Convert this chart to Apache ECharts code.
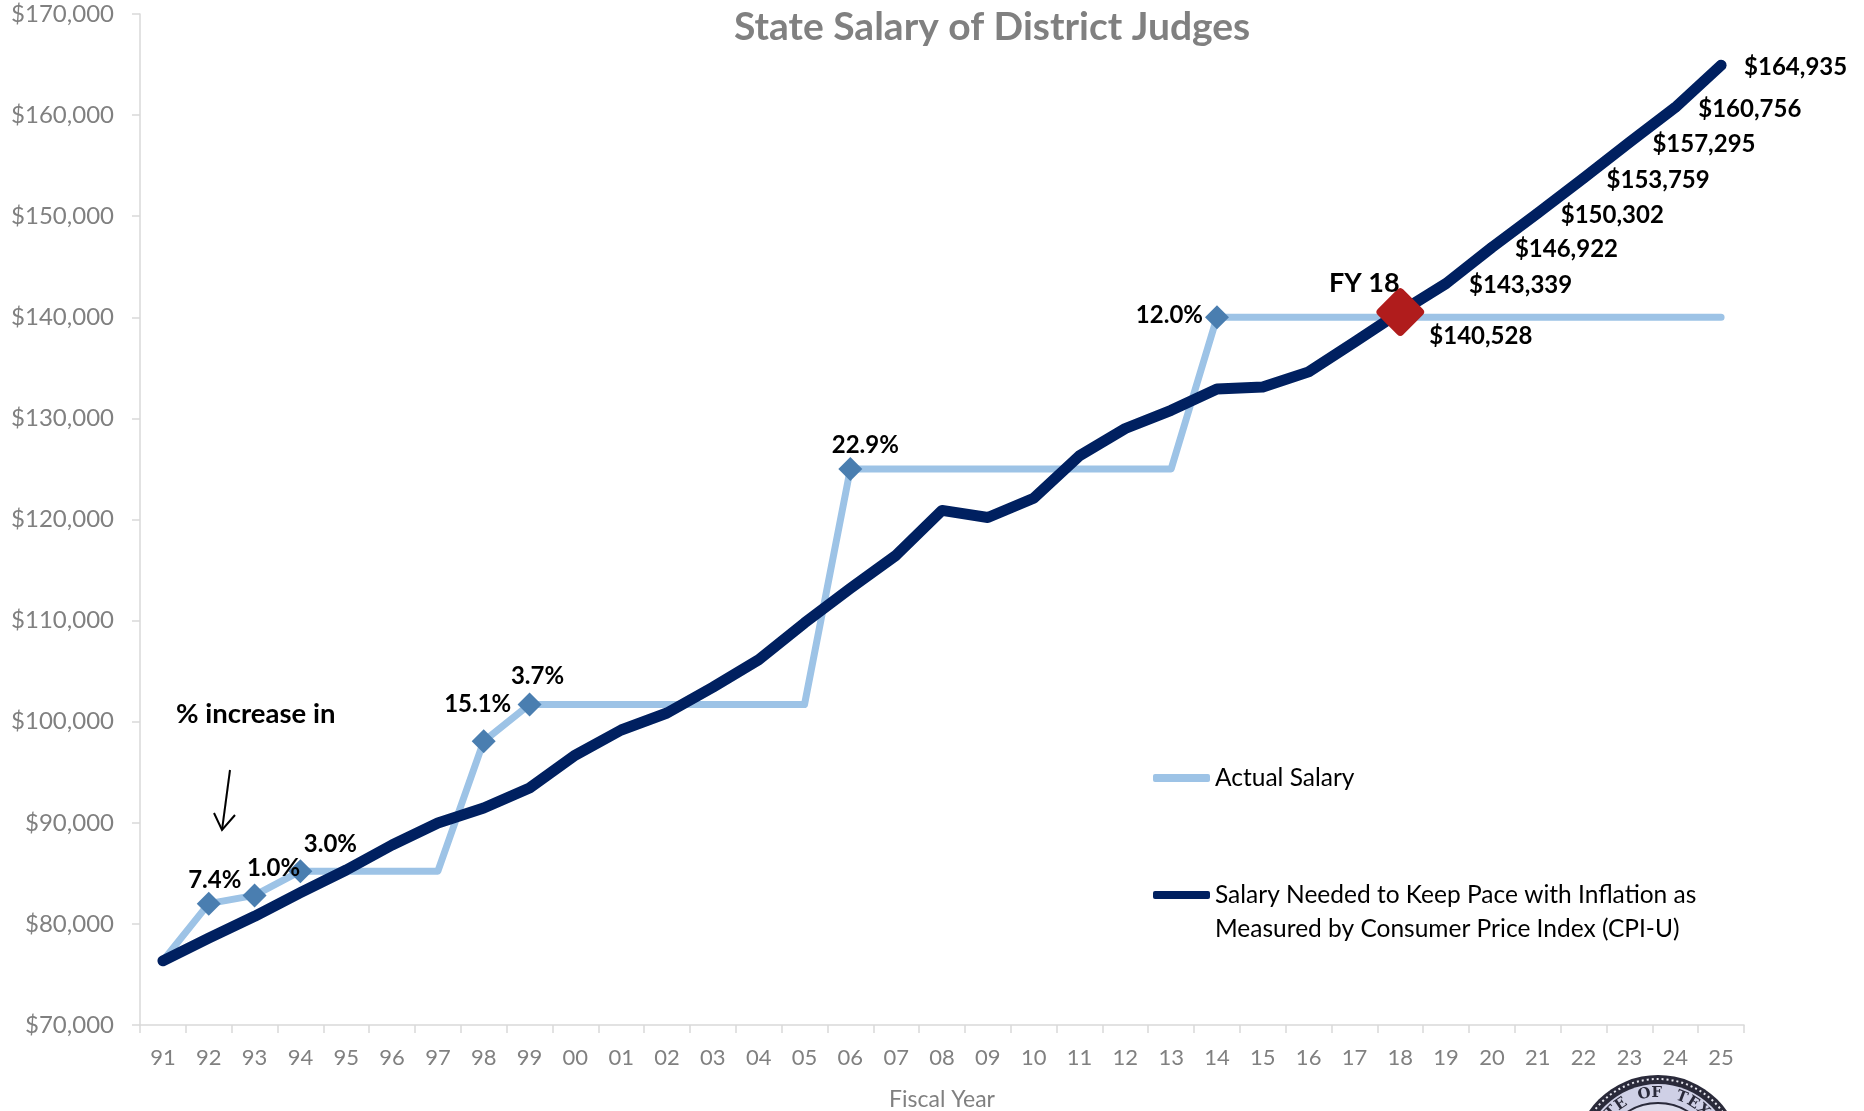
<!DOCTYPE html>
<html>
<head>
<meta charset="utf-8">
<title>State Salary of District Judges</title>
<script src="https://cdn.jsdelivr.net/npm/echarts@6/dist/echarts.min.js"></script>
<style>
  html, body { margin: 0; padding: 0; background: #fff; }
  #chart { width: 1864px; height: 1111px; }
</style>
</head>
<body>
<div id="chart"></div>
<script>
// fiscal years
var years = ['91','92','93','94','95','96','97','98','99','00','01','02','03','04','05','06','07','08','09','10','11','12','13','14','15','16','17','18','19','20','21','22','23','24','25'];

// actual state salary
var actualSalary = [76350, 82000, 82820, 85217, 85217, 85217, 85217, 98071, 101700, 101700, 101700, 101700, 101700, 101700, 101700,
  125000, 125000, 125000, 125000, 125000, 125000, 125000, 125000,
  140000, 140000, 140000, 140000, 140000, 140000, 140000, 140000, 140000, 140000, 140000, 140000];

// salary needed to keep pace with CPI-U
var cpiSalary = [76350, 78600, 80750, 83100, 85330, 87800, 89980, 91460, 93440, 96700, 99180, 100860, 103410, 106120, 109770,
  113180, 116470, 120900, 120200, 122100, 126300, 129000, 130800, 132900, 133100, 134600, 137550,
  140528, 143339, 146922, 150302, 153759, 157295, 160756, 164935];

// % raise labels on the actual salary line
var raiseIdx = [1, 2, 3, 7, 8, 15, 23];
var raiseText = ['7.4%', '1.0%', '3.0%', '15.1%', '3.7%', '22.9%', '12.0%'];

// labelled projections on the CPI line (FY18 onward)
var projStart = 27;

var cpiName = 'Salary Needed to Keep Pace with Inflation as\nMeasured by Consumer Price Index (CPI-U)';

// label placement for the % labels
var raiseLabelPos = [
  {position: 'top', offset: [6, 6]},
  {position: 'top', offset: [19, 2]},
  {position: 'top', offset: [30, 2]},
  {position: 'top', offset: [-6, -8]},
  {position: 'top', offset: [8, 1]},
  {position: 'top', offset: [15, 5]},
  {position: 'left', offset: [3, -2]}
];

var FONT = 'Lato, "Open Sans", sans-serif';

var actualData = actualSalary.map(function(v, i){
  var k = raiseIdx.indexOf(i);
  if (k < 0) return {value: v, symbol: 'none'};
  return {
    value: v,
    symbol: 'diamond',
    symbolSize: 24,
    itemStyle: {color: '#4a7eb0'},
    label: {
      show: true,
      formatter: raiseText[k],
      position: raiseLabelPos[k].position,
      offset: raiseLabelPos[k].offset,
      color: '#000',
      fontWeight: 'bold',
      fontSize: 24,
      fontFamily: FONT
    }
  };
});

var cpiData = cpiSalary.map(function(v, i){
  if (i < projStart) return {value: v, symbol: 'none'};
  return {
    value: v,
    symbol: 'circle',
    symbolSize: 10,
    itemStyle: {color: '#002060'},
    label: {
      show: true,
      position: 'right',
      offset: i === projStart ? [19, 24] : [13, 2],
      formatter: function(p){ return '$' + p.value.toLocaleString('en-US'); },
      color: '#000',
      fontWeight: 'bold',
      fontSize: 24,
      fontFamily: FONT
    }
  };
});

var chart = echarts.init(document.getElementById('chart'));

// seal letters along the upper arc
var sealCx = 1658, sealCy = 1159;
var sealText = 'STATE OF TEXAS';
var sealLetters = [];
for (var i = 0; i < sealText.length; i++) {
  var ang = (-78 + i * 11) * Math.PI / 180;
  sealLetters.push({
    type: 'text',
    x: sealCx + 66 * Math.sin(ang),
    y: sealCy - 66 * Math.cos(ang),
    rotation: -ang,
    style: {text: sealText[i], fill: '#2a2a3a', font: 'bold 15px "DejaVu Serif", serif', align: 'center', verticalAlign: 'middle'},
    z: 12
  });
}

var option = {
  animation: false,
  backgroundColor: '#fff',
  title: {
    text: 'State Salary of District Judges',
    left: 734,
    top: 8,
    padding: 0,
    textStyle: {color: '#808080', fontSize: 39, fontWeight: 'bold', fontFamily: FONT}
  },
  legend: {
    orient: 'vertical',
    left: 1153,
    top: 763,
    padding: 0,
    itemGap: 87,
    itemWidth: 57,
    itemHeight: 8,
    textStyle: {color: '#000', fontSize: 24.5, lineHeight: 30, fontFamily: FONT},
    formatter: function(name){ return name.split('\n')[0]; },
    data: [
      {name: 'Actual Salary', icon: 'roundRect', itemStyle: {color: '#9dc3e6'}},
      {name: cpiName, icon: 'roundRect', itemStyle: {color: '#002060'}}
    ]
  },
  grid: {left: 140, right: 120, top: 14, bottom: 86, containLabel: false, outerBoundsMode: 'none'},
  xAxis: {
    type: 'category',
    data: years,
    boundaryGap: true,
    name: 'Fiscal Year',
    nameLocation: 'middle',
    nameGap: 63,
    nameTextStyle: {color: '#808080', fontSize: 23, fontFamily: FONT},
    axisLine: {lineStyle: {color: '#d9d9d9', width: 1.5}},
    axisTick: {show: true, length: 8, interval: 0, lineStyle: {color: '#d9d9d9', width: 1.5}},
    axisLabel: {color: '#808080', fontSize: 22, fontFamily: FONT, margin: 22, interval: 0},
    splitLine: {show: false}
  },
  yAxis: {
    type: 'value',
    min: 70000,
    max: 170000,
    interval: 10000,
    axisLine: {show: true, lineStyle: {color: '#d9d9d9', width: 1.5}},
    axisTick: {show: true, length: 8, lineStyle: {color: '#d9d9d9', width: 1.5}},
    axisLabel: {
      color: '#808080', fontSize: 24, fontFamily: FONT, margin: 26,
      formatter: function(v){ return '$' + v.toLocaleString('en-US'); }
    },
    splitLine: {show: false}
  },
  series: [
    {
      name: 'Actual Salary',
      type: 'line',
      data: actualData,
      symbol: 'none',
      showSymbol: true,
      lineStyle: {color: '#9dc3e6', width: 7, join: 'round', cap: 'round'},
      itemStyle: {color: '#9dc3e6'},
      z: 2
    },
    {
      name: cpiName,
      type: 'line',
      data: cpiData,
      symbol: 'none',
      showSymbol: true,
      lineStyle: {color: '#002060', width: 11, join: 'round', cap: 'round'},
      itemStyle: {color: '#002060'},
      z: 3,
      markPoint: {
        symbol: 'path://M44,6 Q50,0 56,6 L94,44 Q100,50 94,56 L56,94 Q50,100 44,94 L6,56 Q0,50 6,44 Z',
        symbolSize: 48,
        itemStyle: {color: '#b01c1c'},
        label: {
          show: true,
          position: 'top',
          offset: [-36, 14],
          formatter: 'FY 18',
          color: '#000',
          fontWeight: 'bold',
          fontSize: 27,
          fontFamily: FONT
        },
        data: [{coord: [years[projStart], cpiSalary[projStart]]}]
      }
    }
  ],
  graphic: [
    {
      type: 'text', x: 1215, y: 929,
      style: {text: 'Measured by Consumer Price Index (CPI-U)', fill: '#000', font: '24.5px ' + FONT, verticalAlign: 'middle'}
    },
    {
      type: 'text', x: 176, y: 714,
      style: {text: '% increase in', fill: '#000', font: 'bold 27.5px ' + FONT, verticalAlign: 'middle'}
    },
    {
      type: 'line', shape: {x1: 230, y1: 770, x2: 222, y2: 830},
      style: {stroke: '#000', lineWidth: 2}
    },
    {
      type: 'polyline', shape: {points: [[214, 813], [222, 830], [235, 815]]},
      style: {stroke: '#000', lineWidth: 2, fill: null}
    },
    {
      type: 'circle', shape: {cx: sealCx, cy: sealCy, r: 84},
      style: {fill: '#2a2a3a'}, z: 10
    },
    {
      type: 'circle', shape: {cx: sealCx, cy: sealCy, r: 80},
      style: {fill: null, stroke: '#e8e8f0', lineWidth: 2, lineDash: [2, 3]}, z: 11
    },
    {
      type: 'circle', shape: {cx: sealCx, cy: sealCy, r: 75},
      style: {fill: '#cfd0e6'}, z: 11
    },
    {
      type: 'circle', shape: {cx: sealCx, cy: sealCy, r: 56},
      style: {fill: '#dcdcec', stroke: '#2a2a3a', lineWidth: 2}, z: 11
    }
  ].concat(sealLetters)
};

chart.setOption(option);
</script>
</body>
</html>
